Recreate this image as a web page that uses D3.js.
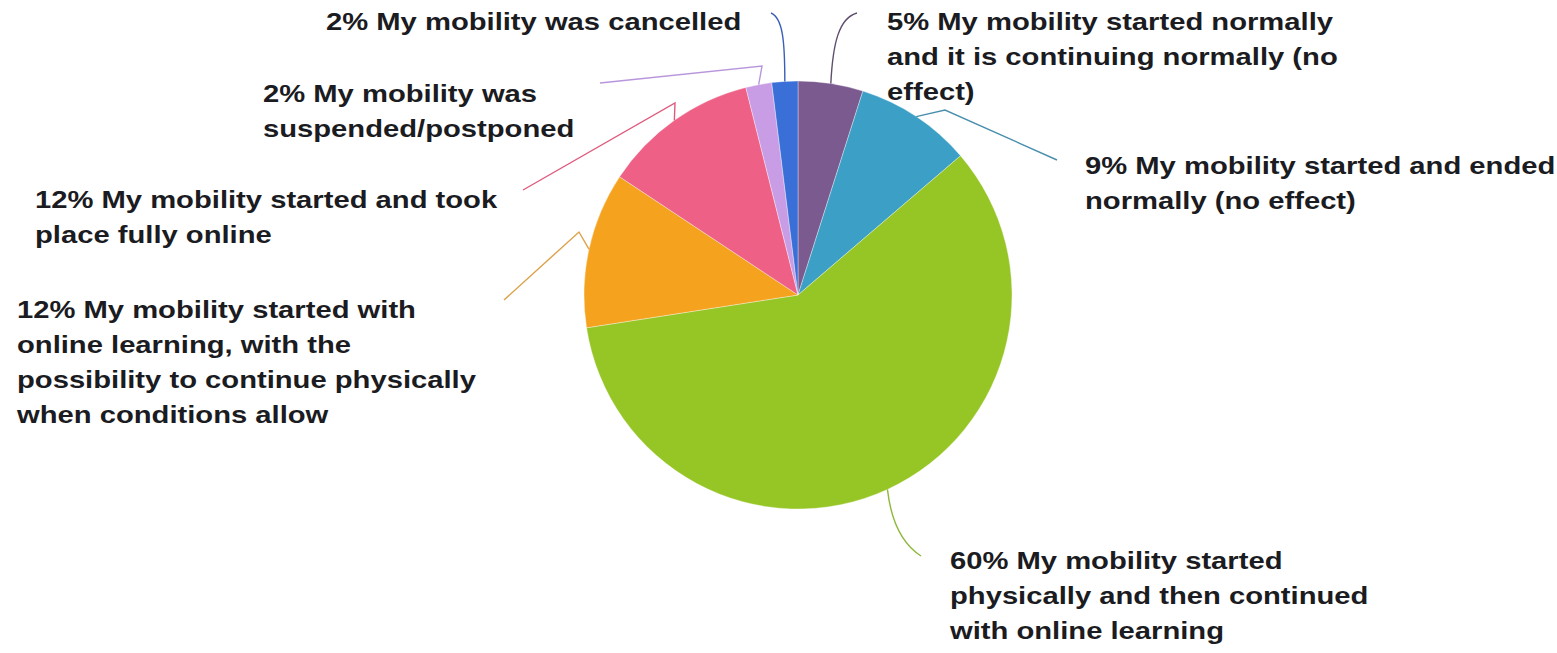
<!DOCTYPE html>
<html>
<head>
<meta charset="utf-8">
<script src="https://cdn.jsdelivr.net/npm/d3@7"></script>
<style>
  html, body { margin: 0; padding: 0; background: #fff; }
  svg { display: block; }
  .lbl { font-family: "Liberation Sans", Arial, sans-serif; font-weight: bold; font-size: 23px; fill: #1b1b22; }
</style>
</head>
<body>
<svg id="chart" width="1557" height="653"></svg>
<script>
// Outcome of the mobility period (share of respondents), clockwise from 12 o'clock
const percents = [5, 9, 60, 12, 12, 2, 2];
const categories = [
  "My mobility started normally and it is continuing normally (no effect)",
  "My mobility started and ended normally (no effect)",
  "My mobility started physically and then continued with online learning",
  "My mobility started with online learning, with the possibility to continue physically when conditions allow",
  "My mobility started and took place fully online",
  "My mobility was suspended/postponed",
  "My mobility was cancelled"
];
// Label text broken into the lines shown next to each slice
const labelLines = [
  ["5% My mobility started normally", "and it is continuing normally (no", "effect)"],
  ["9% My mobility started and ended", "normally (no effect)"],
  ["60% My mobility started", "physically and then continued", "with online learning"],
  ["12% My mobility started with", "online learning, with the", "possibility to continue physically", "when conditions allow"],
  ["12% My mobility started and took", "place fully online"],
  ["2% My mobility was", "suspended/postponed"],
  ["2% My mobility was cancelled"]
];
const sliceColors = ["#7b5a8f", "#3b9fc6", "#96c526", "#f5a31e", "#ee6085", "#c89de6", "#3a6fd8"];
const leaderColors = ["#5e4d6e", "#4a8fae", "#8db83a", "#dca24a", "#e05a7e", "#b896dc", "#3a5fb8"];

const svg = d3.select("#chart");
const cx = 798, cy = 295, R = 214;
const stretch = 1.27;   // horizontally widened label lettering
const lineH = 35;

// Where each label's first baseline sits and how its leader runs
const layout = [
  { x: 887,  y: 30,  leader: p => `M${p[0]},${p[1]} C${p[0] + 2},${p[1] - 40} ${p[0] + 8},${18} 857,13` },
  { x: 1085, y: 174, leader: p => `M${p[0]},${p[1]} L945,110 L1057,160` },
  { x: 950,  y: 569, leader: p => `M${p[0]},${p[1]} Q893,538 921,556` },
  { x: 17,   y: 318, leader: p => `M${p[0]},${p[1]} L579,232 L504,300` },
  { x: 35,   y: 208, leader: p => `M${p[0]},${p[1]} L675,103 L523,190` },
  { x: 263,  y: 102, leader: p => `M${p[0]},${p[1]} L762,66 L600,83` },
  { x: 326,  y: 30,  leader: p => `M${p[0]},${p[1]} C${p[0]},${p[1] - 40} ${p[0] - 2},${18} 771,13` }
];

const pie = d3.pie().sort(null).value(d => d).startAngle(0).endAngle(2 * Math.PI);
const arcs = pie(percents);
const arc = d3.arc().innerRadius(0).outerRadius(R);
const edge = d3.arc().innerRadius(R).outerRadius(R);

const g = svg.append("g").attr("transform", `translate(${cx},${cy})`);
g.selectAll("path.slice")
  .data(arcs)
  .join("path")
  .attr("class", "slice")
  .attr("d", arc)
  .attr("fill", (d, i) => sliceColors[i])
  .attr("stroke", "#ffffff")
  .attr("stroke-opacity", 0.5)
  .attr("stroke-width", 0.7);

// Leader lines from the rim of each slice to its label
svg.append("g").selectAll("path.leader")
  .data(arcs)
  .join("path")
  .attr("class", "leader")
  .attr("d", (d, i) => {
    const c = edge.centroid(d);
    return layout[i].leader([cx + c[0], cy + c[1]]);
  })
  .attr("fill", "none")
  .attr("stroke", (d, i) => leaderColors[i])
  .attr("stroke-width", 1.4);

// Labels
const labels = svg.append("g").selectAll("text.lbl")
  .data(labelLines)
  .join("text")
  .attr("class", "lbl")
  .attr("transform", (d, i) => `translate(${layout[i].x},${layout[i].y}) scale(${stretch},1)`);
labels.selectAll("tspan")
  .data(d => d)
  .join("tspan")
  .attr("x", 0)
  .attr("y", (d, j) => j * lineH)
  .text(d => d);
</script>
</body>
</html>
